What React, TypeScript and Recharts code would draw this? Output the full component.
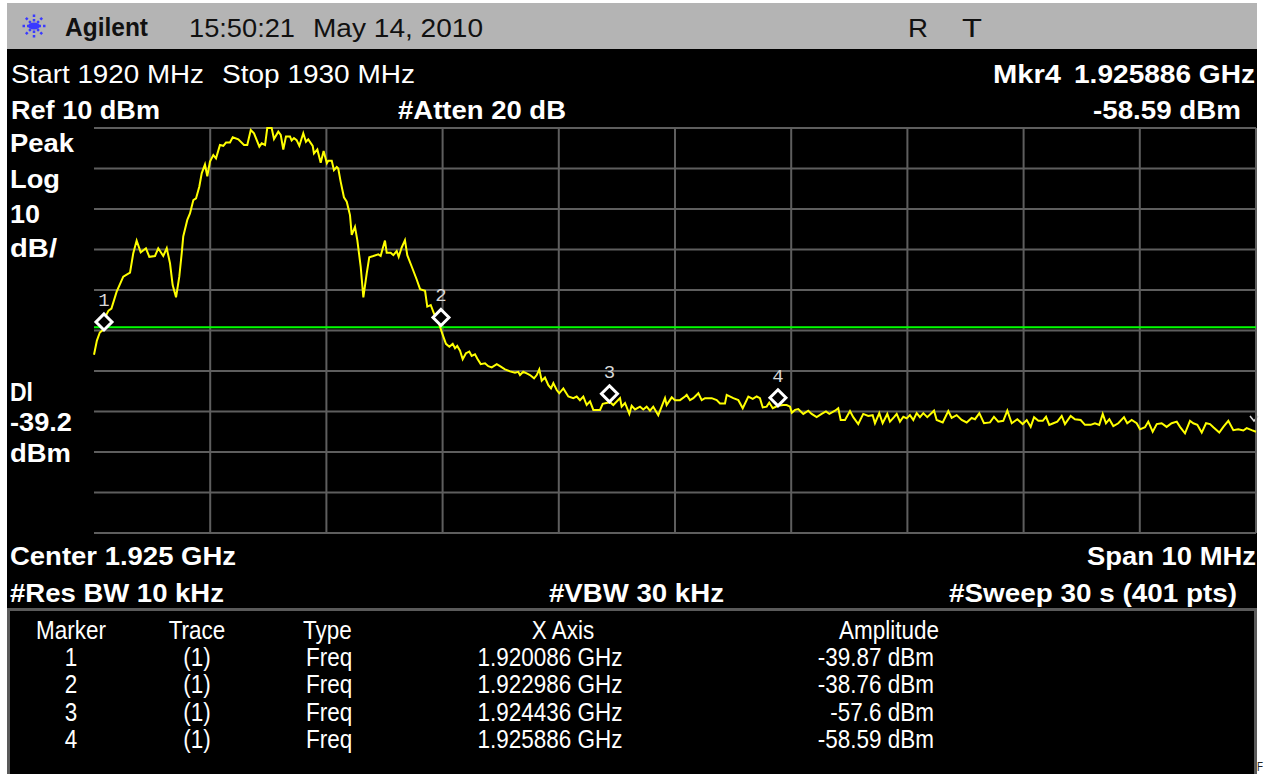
import React from 'react'
import {
  CartesianGrid,
  ComposedChart,
  Line,
  ReferenceLine,
  Scatter,
  XAxis,
  YAxis
} from 'recharts'

const START_MHZ = 1920
const STOP_MHZ = 1930
const REF_DBM = 10
const BOTTOM_DBM = -90
const DISPLAY_LINE_DBM = -39.2

const freqTicks = [1920, 1921, 1922, 1923, 1924, 1925, 1926, 1927, 1928, 1929, 1930]
const levelTicks = [10, 0, -10, -20, -30, -40, -50, -60, -70, -80, -90]

// trace vertices: [MHz above start, dBm]
const sweep: [number, number][] = [
  [0.0, -46.0], [0.025, -42.5], [0.05, -40.5], [0.075, -39.9], [0.1, -36.5],
  [0.125, -35.1], [0.15, -34.6], [0.195, -30.4], [0.252, -26.7], [0.31, -25.7],
  [0.338, -20.9], [0.367, -17.8], [0.402, -20.7], [0.447, -19.7], [0.476, -21.8],
  [0.525, -21.6], [0.553, -19.7], [0.596, -21.6], [0.626, -19.7], [0.654, -23.4],
  [0.677, -28.8], [0.706, -31.8], [0.734, -26.7], [0.755, -20.9], [0.768, -16.8],
  [0.803, -12.7], [0.826, -11.1], [0.855, -7.8], [0.878, -7.4], [0.906, -4.5],
  [0.927, -1.2], [0.955, 1.0], [0.975, -1.9], [0.998, 1.7], [1.027, 3.3],
  [1.05, 2.5], [1.084, 5.8], [1.113, 5.6], [1.136, 6.4], [1.17, 6.4],
  [1.194, 7.7], [1.242, 7.2], [1.291, 5.8], [1.319, 5.8], [1.349, 9.5],
  [1.377, 8.7], [1.423, 5.4], [1.443, 6.2], [1.472, 5.8], [1.491, 10.0],
  [1.529, 10.0], [1.549, 7.3], [1.586, 9.1], [1.607, 8.3], [1.629, 4.7],
  [1.652, 7.9], [1.687, 7.9], [1.701, 6.9], [1.721, 7.5], [1.744, 7.0],
  [1.767, 5.6], [1.801, 8.7], [1.824, 6.6], [1.844, 7.2], [1.882, 5.6],
  [1.893, 3.7], [1.922, 4.7], [1.951, 1.4], [1.976, 4.3], [2.004, 1.3],
  [2.016, 1.9], [2.046, 1.9], [2.065, -0.4], [2.089, 0.4], [2.102, 0.0],
  [2.123, -3.3], [2.151, -7.1], [2.175, -8.2], [2.203, -11.5], [2.218, -16.4],
  [2.246, -14.4], [2.266, -17.7], [2.295, -24.2], [2.318, -31.8], [2.347, -25.9],
  [2.369, -21.9], [2.404, -21.6], [2.447, -21.2], [2.467, -21.6], [2.485, -19.7],
  [2.504, -17.8], [2.519, -20.8], [2.553, -20.8], [2.576, -21.4], [2.605, -20.4],
  [2.622, -21.8], [2.648, -19.5], [2.676, -17.7], [2.696, -21.4], [2.734, -24.2],
  [2.777, -27.4], [2.806, -29.8], [2.849, -30.2], [2.868, -34.1], [2.898, -33.7],
  [2.926, -35.8], [2.975, -38.8], [3.001, -41.1], [3.029, -43.3], [3.058, -44.0],
  [3.087, -43.3], [3.107, -44.4], [3.126, -43.8], [3.15, -45.0], [3.173, -47.1],
  [3.201, -45.6], [3.23, -45.2], [3.25, -46.3], [3.279, -45.9], [3.298, -46.9],
  [3.328, -48.3], [3.365, -48.1], [3.393, -48.8], [3.423, -49.1], [3.466, -48.3],
  [3.494, -48.8], [3.537, -49.6], [3.58, -50.1], [3.623, -50.4], [3.651, -50.2],
  [3.666, -51.0], [3.694, -50.2], [3.724, -50.6], [3.752, -51.0], [3.787, -51.8],
  [3.81, -51.0], [3.832, -49.6], [3.853, -52.4], [3.881, -51.6], [3.91, -53.5],
  [3.933, -54.3], [3.953, -53.0], [3.982, -54.7], [4.004, -55.5], [4.039, -54.3],
  [4.082, -56.3], [4.125, -56.7], [4.154, -56.3], [4.182, -57.2], [4.211, -56.3],
  [4.24, -58.4], [4.269, -57.5], [4.297, -59.6], [4.355, -59.6], [4.378, -58.1],
  [4.441, -57.7], [4.469, -58.4], [4.527, -56.7], [4.541, -58.8], [4.57, -57.9],
  [4.607, -60.6], [4.627, -58.6], [4.656, -59.5], [4.699, -58.8], [4.727, -59.5],
  [4.756, -58.8], [4.785, -59.8], [4.813, -58.8], [4.856, -60.9], [4.885, -58.8],
  [4.914, -56.7], [4.928, -58.4], [4.972, -56.5], [5.0, -57.2], [5.043, -57.2],
  [5.086, -56.3], [5.101, -55.9], [5.129, -57.2], [5.158, -56.7], [5.201, -55.5],
  [5.23, -57.2], [5.258, -56.7], [5.316, -56.7], [5.359, -57.2], [5.387, -58.0],
  [5.43, -58.0], [5.445, -55.9], [5.502, -56.7], [5.545, -57.2], [5.583, -59.2],
  [5.631, -56.3], [5.669, -56.9], [5.703, -56.3], [5.731, -56.7], [5.755, -59.0],
  [5.789, -58.8], [5.811, -57.8], [5.841, -59.2], [5.886, -58.6], [5.932, -58.4],
  [5.961, -58.4], [5.99, -58.8], [6.005, -60.3], [6.033, -59.6], [6.061, -59.4],
  [6.104, -60.6], [6.147, -59.8], [6.176, -60.6], [6.219, -61.4], [6.262, -60.6],
  [6.299, -60.0], [6.328, -60.6], [6.377, -59.8], [6.405, -59.2], [6.426, -62.1],
  [6.463, -62.1], [6.506, -59.9], [6.534, -61.4], [6.577, -63.1], [6.62, -60.6],
  [6.663, -61.1], [6.701, -60.9], [6.721, -62.9], [6.758, -60.4], [6.787, -62.9],
  [6.827, -60.6], [6.85, -62.5], [6.885, -61.4], [6.908, -60.6], [6.936, -62.5],
  [6.965, -61.3], [6.994, -61.7], [7.022, -60.9], [7.051, -62.1], [7.08, -60.4],
  [7.108, -61.4], [7.137, -60.4], [7.171, -61.4], [7.229, -59.8], [7.252, -62.1],
  [7.304, -62.7], [7.352, -59.9], [7.381, -61.6], [7.424, -60.9], [7.467, -62.1],
  [7.51, -62.7], [7.553, -61.6], [7.582, -61.9], [7.619, -60.4], [7.659, -62.9],
  [7.711, -62.7], [7.745, -61.3], [7.782, -62.5], [7.825, -62.3], [7.86, -59.8],
  [7.898, -62.9], [7.946, -61.9], [7.992, -63.1], [8.027, -62.1], [8.061, -63.8],
  [8.09, -61.4], [8.127, -62.3], [8.165, -62.3], [8.193, -61.3], [8.221, -63.3],
  [8.256, -62.9], [8.29, -62.5], [8.328, -61.1], [8.356, -63.1], [8.405, -61.1],
  [8.442, -61.9], [8.491, -62.1], [8.528, -63.3], [8.577, -63.3], [8.614, -62.9],
  [8.651, -63.3], [8.681, -60.6], [8.709, -62.9], [8.738, -61.9], [8.772, -63.6],
  [8.815, -62.9], [8.864, -61.4], [8.892, -62.9], [8.93, -62.1], [8.973, -62.9],
  [9.002, -64.4], [9.045, -63.9], [9.073, -62.5], [9.111, -65.0], [9.146, -63.1],
  [9.188, -62.9], [9.231, -63.8], [9.274, -62.9], [9.318, -62.5], [9.346, -63.8],
  [9.389, -65.4], [9.432, -62.3], [9.46, -62.9], [9.495, -63.3], [9.533, -65.2],
  [9.57, -62.9], [9.604, -63.1], [9.633, -63.9], [9.684, -65.2], [9.719, -63.8],
  [9.762, -62.3], [9.805, -64.6], [9.847, -64.4], [9.891, -64.7], [9.92, -64.1],
  [9.963, -64.6], [10.0, -65.0]
]

const markerIds = [1, 2, 3, 4]
const markerFreqGHz = [1.920086, 1.922986, 1.924436, 1.925886]
const markerAmpDbm = [-39.87, -38.76, -57.6, -58.59]

const traceData = sweep.map(([off, a]) => ({ f: START_MHZ + off, a }))
const markerData = markerIds.map((id, i) => ({
  id,
  f: markerFreqGHz[i] * 1000,
  a: markerAmpDbm[i]
}))

const FONT = "'Liberation Sans', Arial, Helvetica, sans-serif"

interface LabelProps {
  x: number
  y: number
  w?: number
  bold?: boolean
  size?: number
  anchor?: 'start' | 'middle' | 'end'
  fill?: string
  children: React.ReactNode
}

function Label({ x, y, w, bold, size = 26, anchor = 'start', fill = '#fff', children }: LabelProps) {
  return (
    <text
      x={x}
      y={y}
      textLength={w}
      lengthAdjust={w ? 'spacingAndGlyphs' : undefined}
      textAnchor={anchor}
      fontFamily={FONT}
      fontWeight={bold ? 700 : 400}
      fontSize={size}
      fill={fill}
    >
      {children}
    </text>
  )
}

function MarkerShape(props: any) {
  const { cx, cy, payload } = props
  if (cx == null || cy == null) return null
  const c = cy - 8
  return (
    <g>
      <path
        d={`M${cx},${c - 8} L${cx + 8},${c} L${cx},${c + 8} L${cx - 8},${c} Z`}
        fill="#000"
        stroke="#fff"
        strokeWidth={3}
      />
      <text
        x={cx}
        y={cy - 24}
        textAnchor="middle"
        fontFamily="'Liberation Mono', 'DejaVu Sans Mono', monospace"
        fontSize={19}
        fill="#d8d8d8"
      >
        {payload.id}
      </text>
    </g>
  )
}

function AgilentLogo() {
  const rays = [0, 45, 90, 135, 180, 225, 270, 315]
  return (
    <g transform="translate(34 26)">
      {rays.map((deg) => (
        <line
          key={deg}
          x1={0}
          y1={0}
          x2={deg % 180 === 0 ? 13 : deg % 90 === 0 ? 13 : 12}
          y2={0}
          transform={`rotate(${deg})`}
          stroke="#3a3aff"
          strokeWidth={2.5}
          strokeDasharray="2.5 2"
        />
      ))}
      <ellipse cx={0} cy={0} rx={6} ry={3.5} fill="#3a3aff" />
    </g>
  )
}

const TABLE_SX = 0.865

export default function App() {
  return (
    <div
      style={{
        position: 'fixed',
        left: 0,
        top: 0,
        width: 1264,
        height: 774,
        overflow: 'hidden',
        background: '#fff'
      }}
    >
      <svg width={1264} height={774} style={{ position: 'absolute', left: 0, top: 0 }}>
        <rect x={7} y={3} width={1250} height={46} fill="#b4b4b4" />
        <rect x={7} y={49} width={1250} height={725} fill="#000" />

        <AgilentLogo />
        <Label x={65} y={36} w={83} bold size={25} fill="#111">Agilent</Label>
        <Label x={189} y={37} w={106} fill="#111">15:50:21</Label>
        <Label x={313} y={37} w={170} fill="#111">May 14, 2010</Label>
        <Label x={908} y={37} w={20} fill="#111">R</Label>
        <Label x={962} y={37} w={20} fill="#111">T</Label>

        <Label x={11} y={83} w={193}>Start 1920 MHz</Label>
        <Label x={222} y={83} w={193}>Stop 1930 MHz</Label>
        <Label x={993} y={83} w={68} bold>Mkr4</Label>
        <Label x={1255} y={83} w={181} bold anchor="end">1.925886 GHz</Label>

        <Label x={11} y={119} w={149} bold>Ref 10 dBm</Label>
        <Label x={398} y={119} w={168} bold>#Atten 20 dB</Label>
        <Label x={1241} y={119} w={148} bold anchor="end">-58.59 dBm</Label>

        <Label x={10} y={152} w={64} bold>Peak</Label>
        <Label x={10} y={188} w={50} bold>Log</Label>
        <Label x={10} y={223} w={30} bold>10</Label>
        <Label x={10} y={257} w={47} bold>dB/</Label>
        <Label x={10} y={401} w={23} bold>Dl</Label>
        <Label x={10} y={431} w={62} bold>-39.2</Label>
        <Label x={10} y={462} w={61} bold>dBm</Label>

        <Label x={10} y={565} w={226} bold>Center 1.925 GHz</Label>
        <Label x={1256} y={565} w={169} bold anchor="end">Span 10 MHz</Label>
        <Label x={10} y={602} w={214} bold>#Res BW 10 kHz</Label>
        <Label x={549} y={602} w={175} bold>#VBW 30 kHz</Label>
        <Label x={949} y={602} w={288} bold>#Sweep 30 s (401 pts)</Label>

        <rect x={8.5} y={609.5} width={1247} height={180} fill="none" stroke="#5a5a5a" strokeWidth={3} />
        <g transform={`scale(${TABLE_SX} 1)`}>
          <Label x={71 / TABLE_SX} y={639} anchor="middle">Marker</Label>
          <Label x={197 / TABLE_SX} y={639} anchor="middle">Trace</Label>
          <Label x={303 / TABLE_SX} y={639}>Type</Label>
          <Label x={563 / TABLE_SX} y={639} anchor="middle">X Axis</Label>
          <Label x={889 / TABLE_SX} y={639} anchor="middle">Amplitude</Label>
          {markerIds.map((id, i) => {
            const y = 666 + i * 27.3
            return (
              <g key={id}>
                <Label x={71 / TABLE_SX} y={y} anchor="middle">{id}</Label>
                <Label x={197 / TABLE_SX} y={y} anchor="middle">(1)</Label>
                <Label x={306 / TABLE_SX} y={y}>Freq</Label>
                <Label x={550 / TABLE_SX} y={y} anchor="middle">
                  {markerFreqGHz[i].toFixed(6)} GHz
                </Label>
                <Label x={934 / TABLE_SX} y={y} anchor="end">
                  {String(markerAmpDbm[i])} dBm
                </Label>
              </g>
            )
          })}
        </g>

        <path d="M1250,416 L1254,421 L1258,416" fill="none" stroke="#ddd" strokeWidth={1.5} />
        <Label x={1257} y={771} w={6} size={12} fill="#222">F</Label>
      </svg>

      <div style={{ position: 'absolute', left: 84, top: 118 }}>
        <ComposedChart
          width={1182}
          height={425}
          data={traceData}
          margin={{ top: 10, right: 10, bottom: 10, left: 10 }}
        >
          <CartesianGrid
            stroke="#5e5e5e"
            strokeWidth={2}
            fill="none"
            horizontalValues={levelTicks}
            verticalValues={freqTicks}
          />
          <XAxis
            type="number"
            dataKey="f"
            domain={[START_MHZ, STOP_MHZ]}
            ticks={freqTicks}
            hide
          />
          <YAxis
            type="number"
            dataKey="a"
            domain={[BOTTOM_DBM, REF_DBM]}
            ticks={levelTicks}
            hide
          />
          <ReferenceLine y={DISPLAY_LINE_DBM} stroke="#00ff00" strokeWidth={2} />
          <Line
            type="linear"
            dataKey="a"
            stroke="#ffff00"
            strokeWidth={2}
            dot={false}
            activeDot={false}
            isAnimationActive={false}
          />
          <Scatter
            data={markerData}
            dataKey="a"
            shape={MarkerShape}
            isAnimationActive={false}
          />
        </ComposedChart>
      </div>
    </div>
  )
}
